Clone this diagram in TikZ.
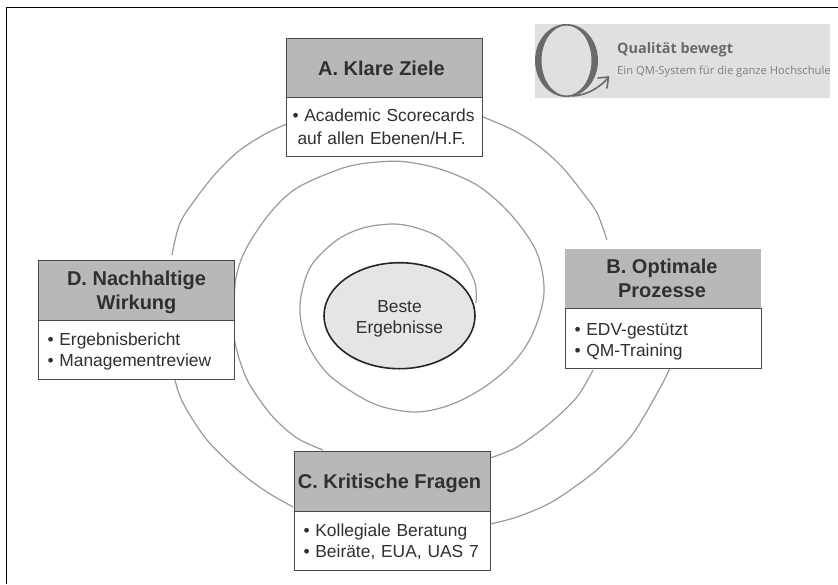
\documentclass[tikz,border=0pt]{standalone}
\usetikzlibrary{shapes.geometric}
\usepackage{fontspec}
\setmainfont{Liberation Sans}
\newfontfamily\logofont{Open Sans}
\definecolor{hd}{HTML}{B8B8B8}
\definecolor{bd}{HTML}{4A4A4A}
\definecolor{tx}{HTML}{303030}
\definecolor{sp}{HTML}{9A9A9A}
\definecolor{lg}{HTML}{E0E0E0}
\definecolor{lgt}{HTML}{6A6A6A}
\newcommand{\topstrut}[1]{\rule{0pt}{#1}}
\tikzset{
  headbox/.style={draw=bd,line width=1pt,fill=hd,minimum width=196pt,minimum height=59.5pt,inner sep=0pt,align=center,text=tx,font=\fontsize{20}{24}\selectfont\bfseries,anchor=north west},
  bodybox/.style={draw=bd,line width=1pt,fill=white,text width=196pt,minimum height=59.5pt,inner sep=0pt,align=left,text=tx,font=\fontsize{17.4}{21}\selectfont,anchor=north west},
  spiral/.style={draw=sp,line width=1.2pt,smooth,tension=0.55},
}
\begin{document}
\begin{tikzpicture}[x=1pt,y=-1pt]
\useasboundingbox (0,0) rectangle (838,584);
\fill[white] (0,0) rectangle (838,584);
% frame
\draw[black,line width=1.6pt] (6.5,584) -- (6.5,7.5) -- (838,7.5);
% spiral
\draw[spiral] plot coordinates {(476,303)(475,283)(463,260)(440,238)(417,228)(393,224)(363,228)(337,240)(313,263)(303,287)(300,313)(307,343)(327,373)(357,395)(383,407)(417,412)(450,405)(483,388)(513,363)(533,333)(544,293)(537,253)(513,217)(480,187)(443,170)(407,162)(377,162)(343,168)(297,188)(270,213)(247,247)(237,273)(234,300)(234,337)(243,370)(253,390)(273,417)(297,438)(323,450)};
\draw[spiral] plot coordinates {(490,458)(517,447)(550,423)(577,397)(593,370)};
\draw[spiral] plot coordinates {(607,240)(597,213)(583,193)(563,168)(540,147)(513,130)(483,117)};
\draw[spiral] plot coordinates {(287,124)(267,133)(240,150)(217,172)(197,197)(180,223)(172,255)};
\draw[spiral] plot coordinates {(175,380)(183,403)(207,440)(240,472)(267,492)(293,507)};
\draw[spiral] plot coordinates {(490,524)(517,517)(550,503)(580,483)(600,467)(632,435)(660,388)(670,368)};
% centre
\node[ellipse,draw=black!85,line width=1.6pt,fill=black!10,minimum width=151pt,minimum height=106pt,inner sep=0pt,align=center,text=tx,font=\fontsize{17.4}{21}\selectfont] (E) at (399.5,315.7) {\topstrut{18.6pt}Beste\\Ergebnisse};
% boxes
\node[headbox] (Ah) at (286,37.5) {\hspace*{-6pt}\topstrut{16.4pt}A. Klare Ziele};
\node[bodybox] (Ab) at (286,96.5) {\hspace*{6pt}\raisebox{1pt}{• Academic Scorecards}\\\hspace*{11pt}\raisebox{-1pt}{auf allen Ebenen/H.F.}};
\node[headbox,draw=none] (Bh) at (564,248) {\hspace*{-1pt}B. Optimale\\\hspace*{-1pt}Prozesse};
\node[bodybox] (Bb) at (565,308) {\hspace*{9pt}\topstrut{18.6pt}• EDV-gestützt\\\hspace*{9pt}• QM-Training};
\node[headbox] (Ch) at (294,451) {\hspace*{-6pt}\topstrut{18.4pt}C. Kritische Fragen};
\node[bodybox] (Cb) at (294,510.7) {\hspace*{9pt}\topstrut{14.6pt}• Kollegiale Beratung\\\hspace*{9pt}• Beiräte, EUA, UAS 7};
\node[headbox] (Dh) at (38,260) {\topstrut{18.4pt}D. Nachhaltige\\Wirkung};
\node[bodybox] (Db) at (38,319.5) {\hspace*{9pt}\topstrut{16.6pt}• Ergebnisbericht\\\hspace*{9pt}• Managementreview};
% logo
\fill[lg] (535,24) rectangle (830,98);
\fill[lgt,even odd rule] (566.5,60.5) ellipse [x radius=31.5,y radius=36.5] (566.5,60.5) ellipse [x radius=25,y radius=35];
\draw[lgt,line width=1.6pt,line cap=round] (573,96) .. controls (588,95) and (600,87) .. (608,78);
\draw[lgt,line width=1.6pt,line cap=round,line join=round] (598,78) -- (608.5,77) -- (607,88);
\node[anchor=base west,inner sep=0pt,text=lgt,font=\logofont\fontsize{14.4}{16}\selectfont\bfseries] (L1) at (617,53) {Qualität bewegt};
\node[anchor=base west,inner sep=0pt,text=lgt!85,font=\logofont\fontsize{11.2}{13}\selectfont] (L2) at (617,74) {Ein QM-System für die ganze Hochschule};
\end{tikzpicture}
\end{document}
